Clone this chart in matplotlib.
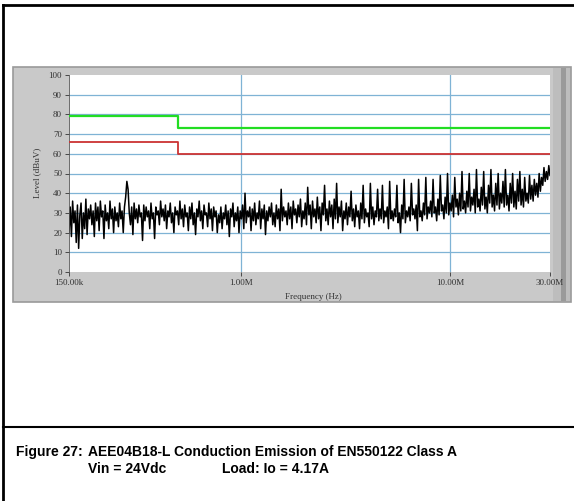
import numpy as np
import matplotlib.pyplot as plt
from matplotlib.patches import Rectangle

# ── data ──────────────────────────────────────────────────────────────────────
f_start, f_stop = 150e3, 30e6
level_dbuv = [
    20, 33, 18, 36, 25, 31, 15, 34, 12, 29, 35, 17, 30, 22, 37, 19, 32, 27, 34, 24,
    31, 18, 35, 26, 33, 21, 36, 28, 31, 17, 34, 26, 30, 22, 36, 27, 32, 20, 33, 26,
    30, 23, 35, 27, 31, 20, 33, 38, 46, 42, 30, 24, 33, 19, 35, 27, 32, 25, 34, 28,
    30, 16, 34, 26, 33, 28, 31, 22, 35, 27, 30, 17, 33, 29, 31, 24, 36, 28, 32, 26,
    34, 22, 31, 28, 35, 25, 30, 20, 33, 29, 31, 24, 36, 27, 32, 23, 34, 28, 30, 21,
    33, 27, 35, 24, 30, 19, 32, 28, 36, 26, 31, 22, 34, 29, 30, 23, 35, 27, 32, 21,
    33, 28, 31, 20, 29, 25, 33, 22, 30, 27, 34, 24, 31, 18, 32, 28, 35, 23, 30, 26,
    33, 20, 31, 27, 34, 22, 40, 25, 31, 28, 33, 21, 32, 26, 35, 24, 30, 27, 36, 22,
    32, 27, 34, 19, 31, 26, 33, 28, 35, 24, 30, 23, 34, 27, 32, 21, 42, 26, 33, 28,
    31, 24, 35, 27, 33, 22, 36, 29, 32, 25, 34, 28, 37, 23, 31, 27, 35, 24, 43, 29,
    34, 22, 36, 28, 32, 25, 38, 27, 33, 21, 35, 29, 44, 26, 32, 24, 36, 28, 34, 22,
    37, 27, 45, 25, 33, 28, 36, 21, 31, 27, 35, 24, 33, 28, 41, 26, 32, 23, 34, 28,
    31, 22, 35, 27, 44, 25, 32, 28, 30, 23, 45, 27, 33, 24, 31, 28, 42, 26, 32, 27,
    44, 25, 31, 28, 33, 22, 46, 27, 31, 26, 32, 28, 44, 25, 30, 20, 34, 27, 47, 25,
    31, 28, 33, 26, 45, 29, 32, 27, 34, 21, 47, 28, 31, 26, 35, 29, 48, 27, 33, 30,
    36, 28, 47, 30, 33, 26, 37, 29, 49, 31, 34, 27, 38, 30, 50, 29, 35, 31, 39, 28,
    48, 33, 37, 29, 40, 31, 51, 32, 36, 30, 41, 33, 50, 31, 38, 34, 42, 30, 52, 33,
    37, 31, 43, 34, 51, 32, 38, 30, 44, 35, 52, 33, 39, 31, 45, 34, 50, 32, 40, 35,
    46, 33, 52, 34, 39, 31, 45, 35, 50, 33, 41, 32, 47, 36, 51, 34, 42, 33, 48, 36,
    40, 35, 49, 37, 44, 36, 47, 39, 45, 38, 50, 41, 48, 44, 53, 46, 51, 47, 54, 49,
]
freq = np.geomspace(f_start, f_stop, len(level_dbuv))

limit_freq = [150e3, 500e3, 500e3, 30e6]
qp_limit = [79, 79, 73, 73]     # green
avg_limit = [66, 66, 60, 60]    # red

xticks = [150e3, 1e6, 10e6, 30e6]
xtick_labels = ["150.00k", "1.00M", "10.00M", "30.00M"]
yticks = list(range(0, 101, 10))

# ── page / frame ──────────────────────────────────────────────────────────────
W, H = 574, 501
fig = plt.figure(figsize=(W / 100, H / 100), dpi=100)
bg = fig.add_axes([0, 0, 1, 1])
bg.set_xlim(0, W)
bg.set_ylim(H, 0)
bg.axis("off")

# outer border + caption separator
bg.plot([3, 3], [5, H], color="black", lw=2)
bg.plot([3, W], [5, 5], color="black", lw=2)
bg.plot([3, W], [427, 427], color="black", lw=1.5)

# grey instrument panel with bevel
bg.add_patch(Rectangle((13, 67), 558, 235, facecolor="#c9c9c9", edgecolor="#9a9a9a", lw=1.2))
bg.add_patch(Rectangle((553, 68), 17, 233, facecolor="#bdbdbd", edgecolor="none"))
bg.add_patch(Rectangle((561, 68), 5, 233, facecolor="#9a9a9a", edgecolor="none"))

serif = ["Liberation Serif", "DejaVu Serif"]
bg.text(313, 297, "Frequency (Hz)", ha="center", va="center", fontsize=6.5, family=serif, color="#333333")
bg.text(37, 173, "Level (dBuV)", ha="center", va="center", rotation=90, fontsize=6.5, family=serif, color="#333333")

cap_font = ["Liberation Sans", "DejaVu Sans"]
cap = dict(ha="left", va="center", fontsize=10, fontweight="bold", family=cap_font)
bg.text(16, 452, "Figure 27:", **cap)
bg.text(88, 452, "AEE04B18-L Conduction Emission of EN550122 Class A", **cap)
bg.text(88, 469, "Vin = 24Vdc", **cap)
bg.text(222, 469, "Load: Io = 4.17A", **cap)

# ── plot area ─────────────────────────────────────────────────────────────────
ax = fig.add_axes([69 / W, (H - 272) / H, 481 / W, 197 / H])
ax.set_facecolor("white")
ax.set_xscale("log")
ax.set_xlim(f_start, f_stop)
ax.set_ylim(0, 100)

for y in yticks[1:-1]:
    ax.axhline(y, color="#7fb3d5", lw=0.9, zorder=1)
for x in [1e6, 10e6]:
    ax.axvline(x, color="#7fb3d5", lw=0.9, zorder=1)

ax.plot(limit_freq, qp_limit, color="#22dd22", lw=1.6, zorder=3)
ax.plot(limit_freq, avg_limit, color="#cc3333", lw=1.3, zorder=3)
ax.plot(freq, level_dbuv, color="black", lw=1.1, zorder=2)

ax.set_xticks(xticks)
ax.set_xticklabels(xtick_labels)
ax.xaxis.set_minor_locator(plt.NullLocator())
ax.set_yticks(yticks)
ax.tick_params(axis="both", labelsize=6.5, length=3, width=0.6, colors="#333333", pad=2)
for lab in ax.get_xticklabels() + ax.get_yticklabels():
    lab.set_family(serif)
for side in ["top", "right", "bottom"]:
    ax.spines[side].set_visible(False)
ax.spines["left"].set_color("#555555")
ax.spines["left"].set_linewidth(0.6)

fig.savefig("out.png", dpi=100)
